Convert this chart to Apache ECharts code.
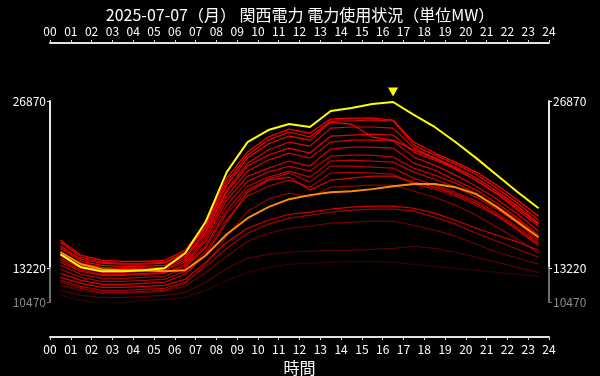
<!DOCTYPE html>
<html><head><meta charset="utf-8">
<script src="https://cdn.jsdelivr.net/npm/echarts@6/dist/echarts.min.js"></script>
<style>html,body{margin:0;padding:0;background:#000;}#c{width:600px;height:376px;}</style>
</head><body><div id="c"></div>
<script>
// ---- data ----
const titleText = '2025-07-07（月） 関西電力 電力使用状況（単位MW）';
const times = [0.5,1.5,2.5,3.5,4.5,5.5,6.5,7.5,8.5,9.5,10.5,11.5,12.5,13.5,14.5,15.5,16.5,17.5,18.5,19.5,20.5,21.5,22.5,23.5];
const hourLabels = ['00','01','02','03','04','05','06','07','08','09','10','11','12','13','14','15','16','17','18','19','20','21','22','23','24'];
const yTop = 26870, yMid = 13220, yLow = 10470;

const todayMW  = [14360,13300,12970,12970,13060,13220,14450,17060,21070,23520,24500,24990,24750,26050,26300,26630,26790,25730,24750,23520,22210,20820,19430,18120];
const orangeMW = [14530,13550,13140,13060,13060,12970,13060,14280,16000,17310,18210,18860,19190,19430,19510,19680,19920,20090,20090,19840,19270,18210,16980,15750];

const day01 = [15510,14280,13870,13790,13790,13870,14690,16980,20580,22700,23930,24580,24250,25400,25480,25480,25320,23520,22620,21880,21070,20000,18780,17470];
const day02 = [15350,14120,13710,13630,13630,13710,14530,16730,20250,22460,23680,24340,23930,25240,25240,25320,25240,23270,22460,21720,20900,19760,18530,17140];
const day03 = [15020,13960,13630,13550,13550,13630,14450,16570,20000,22210,23360,24010,23680,25150,24990,23930,23680,22870,22210,21480,20580,19510,18290,16900];
const day04 = [14850,13790,13460,13380,13380,13460,14200,16330,19600,21800,22870,23520,23190,24660,24750,24750,24660,23030,22210,21390,20410,19270,17960,16650];
const day05 = [14530,13630,13300,13220,13220,13300,14040,16160,19430,21560,22460,23030,22620,24010,24090,24170,24090,22700,22050,21310,20410,19350,18120,16820];
const day06 = [14280,13380,13060,13060,13060,13140,13870,15920,19110,21150,22050,22620,22210,23520,23680,23680,23600,22290,21640,20820,19920,18860,17630,16240];
const day07 = [14040,13220,12890,12890,12970,13060,13710,15670,18780,20740,21390,21970,21560,22950,23110,23110,23030,21800,21230,20410,19600,18530,17310,15920];
const day08 = [13710,12970,12650,12650,12730,12810,13550,15430,18370,20330,21070,21560,21150,22370,22460,22460,22290,21390,20820,20170,19350,18290,17140,15750];
const day09 = [13870,13060,12730,12730,12810,12890,13380,15100,17960,19920,20660,21150,20660,21970,22050,21970,21880,21070,20490,19840,19020,18040,16900,15510];
const day10 = [13460,12730,12400,12400,12480,12570,13220,14940,17720,19600,20490,20990,20250,21560,21560,21480,21390,20580,20000,19430,18700,17720,16570,15350];
const day11 = [13140,12480,12160,12160,12240,12320,12970,14610,17230,19110,19920,20410,19840,20990,21070,20990,20900,20090,19680,19110,18370,17470,16330,15020];
const day12 = [12810,12240,11910,11910,11990,12080,12730,14360,16980,19430,20410,20660,19600,20410,20580,20740,20740,20250,19840,19270,18530,17550,16410,15180];
const day13 = [12480,11990,11670,11670,11750,11830,12320,13710,15350,16490,17140,17630,17800,18040,18210,18290,18290,18120,17720,17140,16490,15920,15350,14690];
const day14 = [12240,11750,11420,11420,11500,11580,12080,13380,14850,16080,16820,17310,17550,17800,17960,18040,18040,17880,17390,16820,16080,15430,14770,14120];
const day15 = [12080,11580,11260,11260,11340,11420,11990,13550,15840,17880,18860,19350,19020,19840,19920,20000,20000,19510,19020,18370,17550,16570,15590,14450];
const day16 = [11830,11420,11180,11180,11260,11340,11750,12890,14200,15430,16080,16490,16650,16900,16980,17060,17060,16730,16330,15840,15180,14530,14040,13550];
const day17 = [11420,11010,10850,10850,10930,11010,11260,12080,13220,14040,14360,14530,14610,14690,14690,14770,14850,15020,14850,14530,14120,13710,13300,12890];
const day18 = [11010,10600,10360,10440,10600,10690,10850,11420,12240,12890,13300,13550,13630,13710,13790,13790,13710,13550,13380,13220,13060,12890,12730,12570];

const pastDays = [day18,day17,day16,day14,day15,day13,day11,day10,day12,day09,day08,day07,day06,day05,day04,day03,day02,day01];
const pastColors = ['#3a0000','#580000','#6e0000','#a80000','#900000','#d80000','#a80000','#b80000','#e00000','#c80000','#c80000','#d80000','#d80000','#e80000','#ec0000','#ff0000','#f40000','#ff0000'];

// ---- chart ----
const chart = echarts.init(document.getElementById('c'), null, {renderer:'canvas'});
const pair = arr => times.map((t,i)=>[t,arr[i]]);
const fontFam = '"Noto Sans CJK JP","Noto Sans",sans-serif';
const series = [];
pastDays.forEach((d,i)=>{
  series.push({type:'line', xAxisIndex:0, yAxisIndex:0, data:pair(d), symbol:'none', silent:true,
    lineStyle:{color:pastColors[i], width:1.2}, z:2});
});
series.push({type:'line', xAxisIndex:0, yAxisIndex:0, data:pair(orangeMW), symbol:'none',
  lineStyle:{color:'#ff8c00', width:2}, z:3});
series.push({type:'line', xAxisIndex:0, yAxisIndex:0, data:pair(todayMW), symbol:'none',
  lineStyle:{color:'#ffff00', width:2}, z:4,
  markPoint:{symbol:'triangle', symbolRotate:180, symbolSize:[10,9], symbolOffset:[0,-10],
    itemStyle:{color:'#ffff00'}, label:{show:false}, data:[{type:'max'}]}});

const xAxisCommon = {type:'value', min:0, max:24, interval:1, gridIndex:1,
  axisLine:{show:true, onZero:false, lineStyle:{color:'#e0e0e0', width:2}},
  axisTick:{show:true, length:3, lineStyle:{color:'#e0e0e0'}},
  splitLine:{show:false},
  axisLabel:{color:'#ffffff', fontSize:12, fontFamily:fontFam, margin:6,
    formatter:v=>hourLabels[Math.round(v)]}};

const yAxisWhite = pos => ({type:'value', gridIndex:2, position:pos, min:yMid, max:yTop, interval:yTop-yMid,
  axisLine:{show:true, onZero:false, lineStyle:{color:'#e8e8e8', width:2}},
  axisTick:{show:true, length:3, lineStyle:{color:'#e8e8e8'}},
  splitLine:{show:false},
  axisLabel:{color:'#ffffff', fontSize:12, fontFamily:fontFam, margin:4, formatter:v=>String(v)}});
const yAxisGray = pos => ({type:'value', gridIndex:3, position:pos, min:yLow, max:yMid, interval:yMid-yLow,
  axisLine:{show:true, onZero:false, lineStyle:{color:'#6e6e6e', width:2}},
  axisTick:{show:true, length:3, lineStyle:{color:'#6e6e6e'}},
  splitLine:{show:false},
  axisLabel:{color:'#8a8a8a', fontSize:12, fontFamily:fontFam, margin:4, showMaxLabel:false, formatter:v=>String(v)}});

const gridBase = {left:50, right:51, outerBoundsMode:'none', containLabel:false};
chart.setOption({
  backgroundColor:'#000000',
  animation:false,
  title:{text:titleText, left:'center', top:2,
    textStyle:{color:'#ffffff', fontSize:16, fontWeight:'normal', fontFamily:fontFam}},
  grid:[
    Object.assign({}, gridBase, {top:101, bottom:74}),
    Object.assign({}, gridBase, {top:43, bottom:39}),
    Object.assign({}, gridBase, {top:101, bottom:108}),
    Object.assign({}, gridBase, {top:268, bottom:74})
  ],
  xAxis:[
    {type:'value', gridIndex:0, min:0, max:24, show:false},
    Object.assign({}, xAxisCommon, {position:'top'}),
    Object.assign({}, xAxisCommon, {position:'bottom', name:'時間', nameLocation:'middle', nameGap:21,
      nameTextStyle:{color:'#ffffff', fontSize:16, fontFamily:fontFam}}),
    {type:'value', gridIndex:2, min:0, max:24, show:false},
    {type:'value', gridIndex:3, min:0, max:24, show:false}
  ],
  yAxis:[
    {type:'value', gridIndex:0, min:yLow, max:yTop, show:false},
    {type:'value', gridIndex:1, min:0, max:1, show:false},
    yAxisWhite('left'), yAxisWhite('right'),
    yAxisGray('left'), yAxisGray('right')
  ],
  series:series
});
</script>
</body></html>
